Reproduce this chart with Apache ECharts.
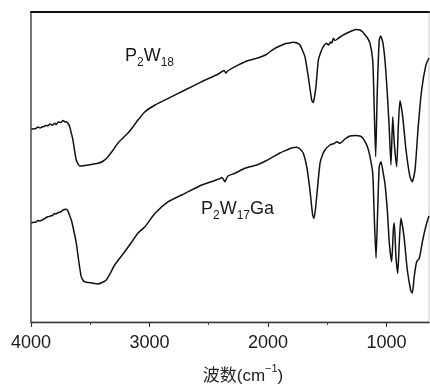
<!DOCTYPE html>
<html>
<head>
<meta charset="utf-8">
<script src="https://cdn.jsdelivr.net/npm/echarts@6/dist/echarts.min.js"></script>
<style>html,body{margin:0;padding:0;background:#fff}#c{width:430px;height:385px}</style>
</head>
<body>
<div id="c"></div>
<script>
// Wavenumbers (cm^-1) and relative transmittance (arbitrary units)
const wnP2W18 = [3997,3975,3960,3940,3924,3905,3890,3870,3857,3840,3820,3800,3789,3770,3750,3730,3716,3700,3690,3673,3660,3646,3632,3618,3600,3589,3560,3519,3435,3390,3350,3310,3266,3220,3181,3140,3097,3038,2953,2841,2700,2559,2419,2370,2355,2340,2278,2194,2095,2020,1955,1900,1842,1800,1786,1760,1730,1710,1688,1660,1631,1618,1605,1595,1575,1560,1547,1530,1505,1490,1470,1460,1449,1435,1420,1392,1350,1308,1260,1224,1200,1181,1160,1139,1116,1103,1091,1078,1061,1049,1032,1013,993,976,962,947,934,914,900,886,863,835,802,782,759,732,703,667,641];
const p2w18 = [192.7,193.2,193.5,195,194,195.2,195.5,196.8,196,198,196.8,198.8,197.5,200,199.5,201.5,200.3,200,199,195.3,189,182,171,162,157.5,156,156.3,157,158.7,161,165.3,171.5,179,184.5,189,195,202,210.3,217,223.7,232,240.3,248,251.5,249,251,255.3,260.3,263.7,267,272.7,276,278.7,279.5,279.7,279.2,277,272,265.3,245.3,222,219.3,227,235.3,262,268,272,276,278.7,277,280,279,283.7,281.5,282.5,285,288,290.3,292.5,292,290,287,284,278.7,262,212,165.3,229,282,286,280.3,262,228.7,192,157,205.3,178.7,155.3,195.3,221.3,205.3,172,145.3,140.3,152,195.3,232,257,264];

const wnP2W17Ga = [3997,3975,3960,3940,3924,3905,3890,3870,3857,3840,3820,3800,3789,3770,3750,3730,3705,3690,3685,3660,3640,3618,3596,3576,3560,3547,3485,3435,3400,3365,3330,3294,3250,3209,3150,3097,3038,2953,2841,2700,2559,2419,2388,2363,2338,2278,2194,2095,2020,1955,1900,1842,1800,1758,1730,1702,1673,1646,1623,1612,1600,1589,1561,1540,1519,1477,1440,1420,1392,1350,1308,1260,1224,1200,1181,1160,1139,1116,1103,1088,1074,1061,1046,1027,1013,993,976,956,942,934,920,905,892,878,852,824,796,782,766,745,723,694,661,641];
const p2w17ga = [99.3,99.8,100,101.5,101,102,103,104.5,105.3,105.8,106.5,108.5,108,109.5,110,112,112.7,111.5,110,102,92,79,60,45.3,41.5,40.3,39,38,39.5,42,49,57,64,70.3,80,89,95.3,108.7,120.3,128.7,137,142.7,144.5,140.3,146,148.7,153.7,157,161,165.3,169,172,174,174.7,173,168.7,155.3,132,107,103.7,112,125.3,158.7,167,172,177,178.5,180.3,178.7,183,186,186.5,186,184,180.3,175,165.3,148.7,105.3,63.7,112,155.3,160.3,148.7,138.7,112,79,60.3,92,99,65.3,48.7,78.7,103.7,85.3,52,32,28.7,45.3,60.3,63.7,82,98.7,106];

const majorTicks = [4000,3000,2000,1000];
const minorTicks = [3500,2500,1500];
const xMin = 641, xMax = 4000;

const zip = (xs, ys) => xs.map((x, i) => [x, ys[i]]);

const FONT = '"Liberation Sans", Arial, "Noto Sans CJK SC", sans-serif';
const chart = echarts.init(document.getElementById('c'), null, {renderer: 'canvas'});

const xCommon = {type: 'value', min: xMin, max: xMax, inverse: true, gridIndex: 0, splitLine: {show: false}};

chart.setOption({
  animation: false,
  backgroundColor: '#fff',
  grid: {left: 31, right: 1, top: 12, bottom: 63, containLabel: false, outerBoundsMode: 'none',
         show: true, borderColor: '#c8c8c8', borderWidth: 1, backgroundColor: 'transparent'},
  xAxis: [
    Object.assign({}, xCommon, {
      position: 'bottom',
      name: '{a|波数(cm}{b|−1}{a|)}',
      nameLocation: 'middle',
      nameGap: 41,
      nameTextStyle: {
        padding: [0, 0, 0, 26],
        rich: {
          a: {fontSize: 17, fontFamily: FONT, color: '#222', lineHeight: 22, verticalAlign: 'bottom'},
          b: {fontSize: 11, fontFamily: FONT, color: '#222', lineHeight: 12, verticalAlign: 'top'}
        }
      },
      axisLine: {show: true, onZero: false, lineStyle: {color: '#333', width: 1.3}},
      axisTick: {show: true, inside: false, length: 5, customValues: majorTicks, lineStyle: {color: '#333', width: 1.2}},
      axisLabel: {show: true, margin: 12, fontSize: 18, fontFamily: FONT, color: '#1a1a1a', customValues: majorTicks,
                  formatter: v => String(v)}
    }),
    Object.assign({}, xCommon, {
      position: 'bottom',
      axisLine: {show: false, onZero: false},
      axisTick: {show: true, inside: false, length: 3, customValues: minorTicks, lineStyle: {color: '#444', width: 1}},
      axisLabel: {show: false}
    }),
    Object.assign({}, xCommon, {
      position: 'top',
      axisLine: {show: true, onZero: false, lineStyle: {color: '#111', width: 2}},
      axisTick: {show: false},
      axisLabel: {show: false}
    })
  ],
  yAxis: {
    type: 'value', min: 0, max: 310,
    axisLine: {show: true, onZero: false, lineStyle: {color: '#555', width: 1.5}},
    axisTick: {show: false}, axisLabel: {show: false}, splitLine: {show: false}
  },
  series: [
    {name: 'P2W18', type: 'line', xAxisIndex: 0, data: zip(wnP2W18, p2w18), showSymbol: false, symbol: 'none', smooth: 0.2,
     lineStyle: {color: '#111', width: 1.5}},
    {name: 'P2W17Ga', type: 'line', xAxisIndex: 0, data: zip(wnP2W17Ga, p2w17ga), showSymbol: false, symbol: 'none', smooth: 0.2,
     lineStyle: {color: '#111', width: 1.5}}
  ],
  graphic: [
    {type: 'text', x: 125, y: 43, style: {
      text: '{n|P}{s|2}{n|W}{s|18}', fill: '#1a1a1a',
      rich: {
        n: {fontSize: 18, fontFamily: FONT, lineHeight: 26, verticalAlign: 'middle', fill: '#1a1a1a'},
        s: {fontSize: 12, fontFamily: FONT, lineHeight: 14, verticalAlign: 'bottom', fill: '#1a1a1a'}
      }}},
    {type: 'text', x: 201, y: 196, style: {
      text: '{n|P}{s|2}{n|W}{s|17}{n|Ga}', fill: '#1a1a1a',
      rich: {
        n: {fontSize: 18, fontFamily: FONT, lineHeight: 26, verticalAlign: 'middle', fill: '#1a1a1a'},
        s: {fontSize: 12, fontFamily: FONT, lineHeight: 14, verticalAlign: 'bottom', fill: '#1a1a1a'}
      }}}
  ]
});
</script>
</body>
</html>
